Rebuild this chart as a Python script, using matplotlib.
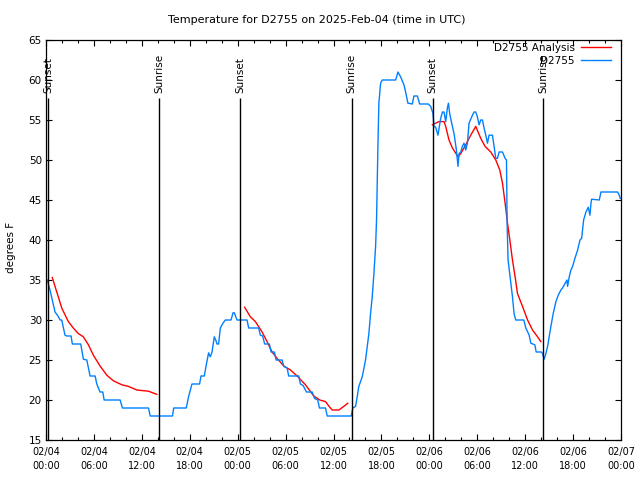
import numpy as np
import matplotlib
matplotlib.use("Agg")
import matplotlib.pyplot as plt

# ---- data (hours since 2025-02-04 00:00 UTC, degrees F) ----
obs_hours = [0.16, 0.50, 1.13, 1.50, 1.76, 1.97, 2.38, 2.60, 3.14, 3.30, 4.35, 4.68, 5.11, 5.52,
             6.15, 6.36, 6.77, 7.11, 7.28, 9.28, 9.57, 12.83, 13.05, 15.84, 15.99, 17.56, 17.85,
             18.28, 19.23, 19.41, 19.82, 20.07, 20.36, 20.57, 20.79, 21.07, 21.29, 21.41, 21.61,
             21.83, 22.16, 22.45, 23.17, 23.42, 23.58, 23.92, 25.17, 25.38, 26.63, 26.84, 27.13,
             27.38, 27.97, 28.19, 28.60, 28.81, 29.57, 29.77, 30.19, 30.39, 31.65, 31.86, 32.20,
             32.61, 33.33, 33.62, 34.03, 34.24, 35.00, 35.21, 38.22, 38.42, 38.76, 38.97, 39.17,
             39.60, 40.01, 40.43, 40.64, 40.85, 41.06, 41.27, 41.39, 41.56, 41.68, 41.90, 42.11,
             43.78, 44.07, 44.40, 44.82, 45.03, 45.32, 45.87, 46.07, 46.50, 46.79, 47.88, 48.17,
             48.46, 48.58, 48.79, 49.08, 49.42, 49.64, 49.84, 50.05, 50.26, 50.39, 50.55, 50.80,
             51.09, 51.39, 51.59, 51.72, 51.93, 52.14, 52.34, 52.56, 52.77, 52.97, 53.40, 53.60,
             53.81, 54.02, 54.23, 54.44, 54.65, 54.85, 55.07, 55.28, 55.48, 55.90, 56.11, 56.32,
             56.53, 56.74, 57.16, 57.49, 57.66, 57.74, 57.86, 58.20, 58.41, 58.61, 58.82, 59.83,
             60.08, 60.50, 60.71, 61.21, 61.38, 62.03, 62.18, 62.38, 62.59, 62.81, 63.22, 63.51,
             63.85, 64.14, 64.47, 64.68, 65.01, 65.23, 65.31, 65.52, 65.73, 65.94, 66.23, 66.57,
             66.86, 67.07, 67.32, 67.61, 67.90, 68.11, 68.24, 68.32, 69.28, 69.49, 71.58, 71.78,
             71.91]
obs_temp = [35.0, 33.75, 31.0, 30.5, 30.0, 30.0, 28.1, 28.0, 28.0, 27.0, 27.0, 25.1, 25.0, 23.0,
            23.0, 22.0, 21.0, 21.0, 20.0, 20.0, 19.0, 19.0, 18.0, 18.0, 19.0, 19.0, 20.4,
            22.0, 22.0, 23.0, 23.0, 24.4, 25.9, 25.4, 26.0, 27.9, 27.4, 27.0, 27.0,
            29.0, 29.6, 30.0, 30.0, 30.9, 30.9, 30.0, 30.0, 29.0, 29.0, 28.1, 28.0,
            27.0, 27.0, 26.0, 26.0, 25.0, 25.0, 24.2, 24.0, 23.0, 23.0, 22.0, 21.8,
            21.0, 21.0, 20.2, 20.0, 19.0, 19.0, 18.0, 18.0, 19.0, 19.2, 20.4, 21.7,
            22.9, 25.0, 28.3, 30.8, 32.9, 35.8, 39.2, 42.5, 51.7, 57.1, 59.6, 60.0,
            60.0, 61.0, 60.4, 59.4, 58.5, 57.1, 57.0, 58.0, 58.0, 57.0, 57.0, 56.7,
            55.8, 54.2, 54.1, 53.1, 55.2, 56.0, 56.0, 54.8, 56.5, 57.1, 55.8, 54.6,
            53.3, 51.25, 49.2, 50.8, 51.0, 51.7, 52.1, 51.25, 52.1, 54.6, 55.6, 56.0,
            56.0, 55.4, 54.4, 55.0, 55.0, 54.0, 53.1, 52.1, 53.1, 53.1, 51.7, 50.2,
            50.2, 51.0, 51.0, 50.2, 50.0, 42.0, 37.5, 34.6, 32.9, 30.8, 30.0, 30.0,
            29.0, 28.1, 27.1, 26.9, 26.0, 26.0, 25.8, 25.1, 25.8, 26.7, 29.2, 30.8,
            32.3, 33.1, 33.75, 34.0, 34.6, 35.0, 34.2, 35.4, 36.25, 36.7, 37.7, 38.75,
            40.0, 40.2, 42.5, 43.5, 44.1, 43.1, 44.6, 45.1, 45.0, 46.0, 46.0, 45.6,
            45.2]

ana_hours = [0.79, 1.13, 1.54, 1.97, 2.80, 3.42, 4.05, 4.68, 5.31, 5.93, 6.77, 7.61, 8.44, 9.50,
             10.32, 11.38, 12.83, 13.89, np.nan,
             24.87, 25.59, 26.22, 27.06, 27.68, 28.31, 28.94, 29.77, 30.61, 31.45, 32.49, 33.53,
             34.28, 35.00, 35.41, 35.84, 36.67, 37.29, 37.79, np.nan,
             48.38, 48.79, 49.21, 49.84, 50.05, 50.46, 50.89, 51.59, 51.93, 52.56, 53.18, 53.81,
             54.44, 54.98, 55.69, 56.32, 56.82, 57.16, 57.49, 57.79, 58.08, 58.41, 58.74, 59.04,
             59.67, 60.30, 60.92, 61.55, 61.96]
ana_temp = [35.3, 34.2, 32.9, 31.5, 29.8, 29.0, 28.3, 27.9, 26.9, 25.6, 24.25, 23.1, 22.4, 21.9,
            21.7, 21.25, 21.1, 20.7, np.nan,
            31.6, 30.4, 29.8, 28.5, 27.3, 26.0, 25.2, 24.25, 23.75, 23.0, 21.9, 20.5,
            20.0, 19.8, 19.25, 18.75, 18.75, 19.2, 19.6, np.nan,
            54.4, 54.6, 54.8, 54.8, 54.2, 52.5, 51.5, 50.4, 50.8, 51.9, 53.1, 54.2,
            52.7, 51.7, 51.0, 50.0, 48.75, 47.1, 44.6, 42.1, 40.0, 37.5, 35.4, 33.3,
            31.7, 30.0, 28.75, 27.9, 27.3]

event_hours = [0.25, 14.17, 24.33, 38.26, 48.42, 62.22]
event_labels = ["Sunset", "Sunrise", "Sunset", "Sunrise", "Sunset", "Sunrise"]

xtick_hours = [0, 6, 12, 18, 24, 30, 36, 42, 48, 54, 60, 66, 72]
xtick_labels = ["02/04\n00:00", "02/04\n06:00", "02/04\n12:00", "02/04\n18:00",
                "02/05\n00:00", "02/05\n06:00", "02/05\n12:00", "02/05\n18:00",
                "02/06\n00:00", "02/06\n06:00", "02/06\n12:00", "02/06\n18:00",
                "02/07\n00:00"]
ytick_values = [15, 20, 25, 30, 35, 40, 45, 50, 55, 60, 65]

title = "Temperature for D2755 on 2025-Feb-04 (time in UTC)"

# ---- figure ----
W, H = 640, 480
fig = plt.figure(figsize=(6.4, 4.8), dpi=100)
ax = fig.add_axes([46 / W, 1 - 440 / H, (621 - 46) / W, 400 / H])

ax.plot(ana_hours, ana_temp, color="#ff0000", lw=1.0, label="D2755 Analysis")
ax.plot(obs_hours, obs_temp, color="#0080ff", lw=1.0, label="D2755")

ax.vlines(event_hours, 15, 57.75, color="black", lw=1.0)
for h, lab in zip(event_hours, event_labels):
    ax.text(h, 58.4, lab, rotation=90, ha="center", va="bottom", fontsize=7.5,
            family="DejaVu Sans")

ax.set_xlim(0, 72)
ax.set_ylim(15, 65)
ax.set_xticks(xtick_hours)
ax.set_xticklabels(xtick_labels, fontsize=7, linespacing=1.45)
ax.set_xticks(np.arange(0, 73, 2), minor=True)
ax.set_yticks(ytick_values)
ax.set_yticklabels([str(v) for v in ytick_values], fontsize=7.5)
ax.tick_params(axis="both", which="major", direction="in", top=True, right=True,
               length=4, width=0.8, pad=3)
ax.tick_params(axis="x", which="minor", direction="in", top=True, bottom=True,
               length=2, width=0.8)
ax.tick_params(axis="x", which="major", pad=5)
for sp in ax.spines.values():
    sp.set_linewidth(0.9)

fig.text(316.5 / W, 1 - 20 / H, title, ha="center", va="center", fontsize=8)
fig.text(11 / W, 1 - 247 / H, "degrees F", rotation=90, ha="center", va="center",
         fontsize=7.5)

ax.legend(loc="upper right", bbox_to_anchor=(611 / W, 1 - 43 / H),
          bbox_transform=fig.transFigure, frameon=False, markerfirst=False,
          fontsize=7.5, handlelength=2.9, handletextpad=0.6, labelspacing=0.3,
          borderpad=0, borderaxespad=0)

fig.savefig("out.png", dpi=100)
